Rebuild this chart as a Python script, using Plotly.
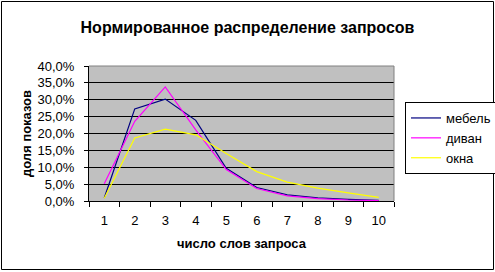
import plotly.graph_objects as go

categories = ["1", "2", "3", "4", "5", "6", "7", "8", "9", "10"]
mebel = [0.009, 0.273, 0.302, 0.239, 0.097, 0.040, 0.018, 0.009, 0.005, 0.002]
divan = [0.051, 0.236, 0.338, 0.211, 0.093, 0.037, 0.015, 0.007, 0.003, 0.001]
okna = [0.008, 0.187, 0.213, 0.196, 0.141, 0.087, 0.056, 0.038, 0.024, 0.011]
series_names = ["мебель", "диван", "окна"]

W, H = 495, 272
ML, MR, MT, MB = 89, 101, 66, 71
PW, PH = W - ML - MR, H - MT - MB

def px_x(p):
    return (p - ML) / PW

def px_y(p):
    return (H - MB - p) / PH

FONT = "Liberation Sans, Arial, sans-serif"

fig = go.Figure()
for name, vals, col in zip(series_names, [mebel, divan, okna], ["#000080", "#FF00FF", "#FFFF00"]):
    fig.add_trace(go.Scatter(x=categories, y=vals, mode="lines", name=name,
                             line=dict(color=col, width=1.2)))

fig.update_layout(
    width=W, height=H,
    margin=dict(l=ML, r=MR, t=MT, b=MB, pad=0, autoexpand=False),
    paper_bgcolor="white",
    plot_bgcolor="#C0C0C0",
    separators=", ",
    font=dict(family=FONT, size=13, color="black"),
    title=dict(text="<b>Нормированное распределение запросов</b>",
               x=0.5, xref="container", xanchor="center",
               y=1 - 27 / H, yref="container", yanchor="middle",
               font=dict(family=FONT, size=16, color="black")),
    showlegend=True,
    legend=dict(xref="container", yref="container", x=405 / W, y=1 - 102 / H,
                xanchor="left", yanchor="top",
                bordercolor="black", borderwidth=1, bgcolor="white",
                font=dict(family=FONT, size=13), itemwidth=30,
                tracegroupgap=0),
    xaxis=dict(type="category", range=[-0.5, 9.5], tickson="boundaries", ticks="outside", ticklen=5,
               tickcolor="black", showgrid=False, showline=True, linecolor="black",
               linewidth=1, zeroline=False, ticklabelstandoff=7,
               title=dict(text="<b>число слов запроса</b>", standoff=12,
                          font=dict(family=FONT, size=13))),
    yaxis=dict(range=[0, 0.4], tickvals=[i * 0.05 for i in range(9)], tickformat=".1%",
               ticks="outside", ticklen=4, tickcolor="black", showgrid=True,
               gridcolor="black", gridwidth=1, showline=True, linecolor="black",
               linewidth=1, zeroline=False, ticklabelstandoff=7,
               title=dict(text="<b>доля показов</b>", standoff=2,
                          font=dict(family=FONT, size=13))),
    shapes=[
        dict(type="line", xref="paper", yref="paper", x0=0, x1=1, y0=1, y1=1,
             line=dict(color="#808080", width=1), layer="above"),
        dict(type="line", xref="paper", yref="paper", x0=1, x1=1, y0=0, y1=1,
             line=dict(color="#808080", width=1), layer="above"),
        dict(type="rect", xref="paper", yref="paper",
             x0=px_x(1.5), x1=px_x(493.5), y0=px_y(269.5), y1=px_y(1.5),
             line=dict(color="black", width=1), fillcolor="rgba(0,0,0,0)", layer="above"),
    ],
)

fig.write_html("out.html")
